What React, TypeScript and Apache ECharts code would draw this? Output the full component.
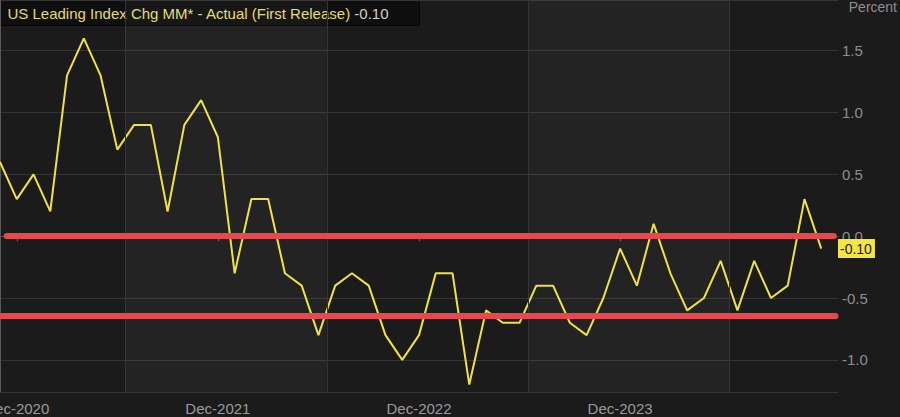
import React, { useEffect, useRef } from "react";
import * as echarts from "echarts";

const months = [
  "Nov-2020", "Dec-2020",
  "Jan-2021", "Feb-2021", "Mar-2021", "Apr-2021", "May-2021", "Jun-2021", "Jul-2021", "Aug-2021", "Sep-2021", "Oct-2021", "Nov-2021", "Dec-2021",
  "Jan-2022", "Feb-2022", "Mar-2022", "Apr-2022", "May-2022", "Jun-2022", "Jul-2022", "Aug-2022", "Sep-2022", "Oct-2022", "Nov-2022", "Dec-2022",
  "Jan-2023", "Feb-2023", "Mar-2023", "Apr-2023", "May-2023", "Jun-2023", "Jul-2023", "Aug-2023", "Sep-2023", "Oct-2023", "Nov-2023", "Dec-2023",
  "Jan-2024", "Feb-2024", "Mar-2024", "Apr-2024", "May-2024", "Jun-2024", "Jul-2024", "Aug-2024", "Sep-2024", "Oct-2024", "Nov-2024", "Dec-2024",
  "Jan-2025",
];

const tickLabels = ["Dec-2020", "Dec-2021", "Dec-2022", "Dec-2023"];

const leadingIndexChg: (number | null)[] = [
  0.6, 0.3,
  0.5, 0.2, 1.3, 1.6, 1.3, 0.7, 0.9, 0.9, 0.2, 0.9, 1.1, 0.8,
  -0.3, 0.3, 0.3, -0.3, -0.4, -0.8, -0.4, -0.3, -0.4, -0.8, -1.0, -0.8,
  -0.3, -0.3, -1.2, -0.6, -0.7, -0.7, -0.4, -0.4, -0.7, -0.8, -0.5, -0.1,
  -0.4, 0.1, -0.3, -0.6, -0.5, -0.2, -0.6, -0.2, -0.5, -0.4, 0.3, -0.1,
  null,
];

const latestValue = -0.1;
const redLevels = [0.0, -0.64];
// band boundaries (in month-index units), mid-year
const bandEdges = [7.5, 19.5, 31.5, 43.5];
const lightBands: [number, number][] = [
  [7.5, 19.5],
  [31.5, 43.5],
];

const titleText = "US Leading Index Chg MM* - Actual (First Release)";
const FONT = "'Liberation Sans', Arial, sans-serif";

export default function App() {
  const ref = useRef<HTMLDivElement>(null);

  useEffect(() => {
    document.body.style.margin = "0";
    document.body.style.background = "#1b1b1b";
    if (!ref.current) return;
    const chart = echarts.init(ref.current, undefined, { renderer: "svg" });
    const n = months.length - 1;
    const isDecTick = (i: number, v: string) => tickLabels.includes(v);

    const option: any = {
      animation: false,
      backgroundColor: "#1b1b1b",
      textStyle: { fontFamily: FONT },
      grid: {
        left: 0,
        right: 62,
        top: 0,
        bottom: 25,
        containLabel: false,
        outerBoundsMode: "none",
      },
      xAxis: [
        {
          type: "category",
          data: months,
          boundaryGap: false,
          axisLine: { show: true, lineStyle: { color: "#5a5a5a", width: 1 } },
          axisTick: {
            show: true,
            length: 5,
            lineStyle: { color: "#6a6a6a" },
            interval: isDecTick,
          },
          axisLabel: {
            show: true,
            color: "#9a9a9a",
            fontSize: 15,
            fontFamily: FONT,
            margin: 9,
            interval: isDecTick,
            hideOverlap: false,
          },
          splitLine: { show: false },
        },
        {
          type: "value",
          min: 0,
          max: n,
          show: false,
        },
      ],
      yAxis: {
        type: "value",
        position: "right",
        min: -1.26,
        max: 1.91,
        splitNumber: 6,
        axisLine: { show: true, lineStyle: { color: "#5a5a5a", width: 1 } },
        axisTick: { show: false },
        axisLabel: {
          color: "#8e8e8e",
          fontSize: 15,
          fontFamily: FONT,
          margin: 4,
          showMinLabel: false,
          showMaxLabel: false,
          formatter: (v: number) => {
            const r = Math.round(v * 2) / 2;
            if (Math.abs(r - v) > 1e-6) return "";
            return r.toFixed(1);
          },
        },
        splitLine: { show: true, lineStyle: { color: "#353535", width: 1 } },
      },
      series: [
        {
          type: "line",
          name: "bands",
          xAxisIndex: 1,
          data: [],
          silent: true,
          markArea: {
            silent: true,
            itemStyle: { color: "rgba(255,255,255,0.035)" },
            data: lightBands.map(([a, b]) => [{ xAxis: a }, { xAxis: b }]),
          },
          markLine: {
            silent: true,
            symbol: "none",
            label: { show: false },
            lineStyle: { color: "#353535", width: 1, type: "solid" },
            data: bandEdges.map((x) => ({ xAxis: x })),
          },
        },
        {
          type: "line",
          name: "US Leading Index Chg MM",
          data: leadingIndexChg,
          showSymbol: false,
          z: 3,
          lineStyle: { color: "#f0e244", width: 2 },
          itemStyle: { color: "#f0e244" },
        },
        {
          type: "line",
          name: "levels",
          xAxisIndex: 1,
          data: [],
          z: 4,
          silent: true,
          markLine: {
            silent: true,
            symbol: "none",
            label: { show: false },
            z: 6,
            lineStyle: { color: "#e8474b", width: 6, type: "solid", cap: "round" },
            data: [
              [{ coord: [0.4, redLevels[0]] }, { coord: [49.75, redLevels[0]] }],
              [{ coord: [0, redLevels[1]] }, { coord: [49.85, redLevels[1]] }],
            ],
          },
        },
        {
          type: "line",
          name: "lastLabel",
          xAxisIndex: 1,
          data: [],
          z: 7,
          silent: true,
          markLine: {
            silent: true,
            symbol: "none",
            z: 8,
            lineStyle: { color: "rgba(0,0,0,0)", width: 0 },
            label: {
              show: true,
              position: "end",
              distance: 0,
              formatter: () => latestValue.toFixed(2),
              color: "#1a1a1a",
              backgroundColor: "#f2e544",
              fontSize: 14,
              fontFamily: FONT,
              padding: [3, 3, 2, 2],
            },
            data: [{ yAxis: latestValue }],
          },
        },
      ],
      graphic: [
        {
          type: "group",
          left: 0,
          top: 0,
          z: 100,
          children: [
            {
              type: "rect",
              shape: { x: 0, y: 0, width: 419, height: 25 },
              style: { fill: "#0f0f0f", stroke: "#050505", lineWidth: 1 },
            },
            {
              type: "text",
              x: 7,
              y: 13,
              style: {
                text: `{a|${titleText}} {b|${latestValue.toFixed(2)}}`,
                verticalAlign: "middle",
                rich: {
                  a: { fill: "#e4dc6c", fontSize: 15, fontFamily: FONT },
                  b: { fill: "#cfcfcf", fontSize: 15, fontFamily: FONT },
                },
              },
            },
          ],
        },
        {
          type: "text",
          right: 3,
          top: 0,
          z: 100,
          style: {
            text: "Percent",
            fill: "#8e8e8e",
            fontSize: 14,
            fontFamily: FONT,
          },
        },
      ],
    };

    chart.setOption(option);
    return () => chart.dispose();
  }, []);

  return <div ref={ref} style={{ width: 900, height: 417 }} />;
}
